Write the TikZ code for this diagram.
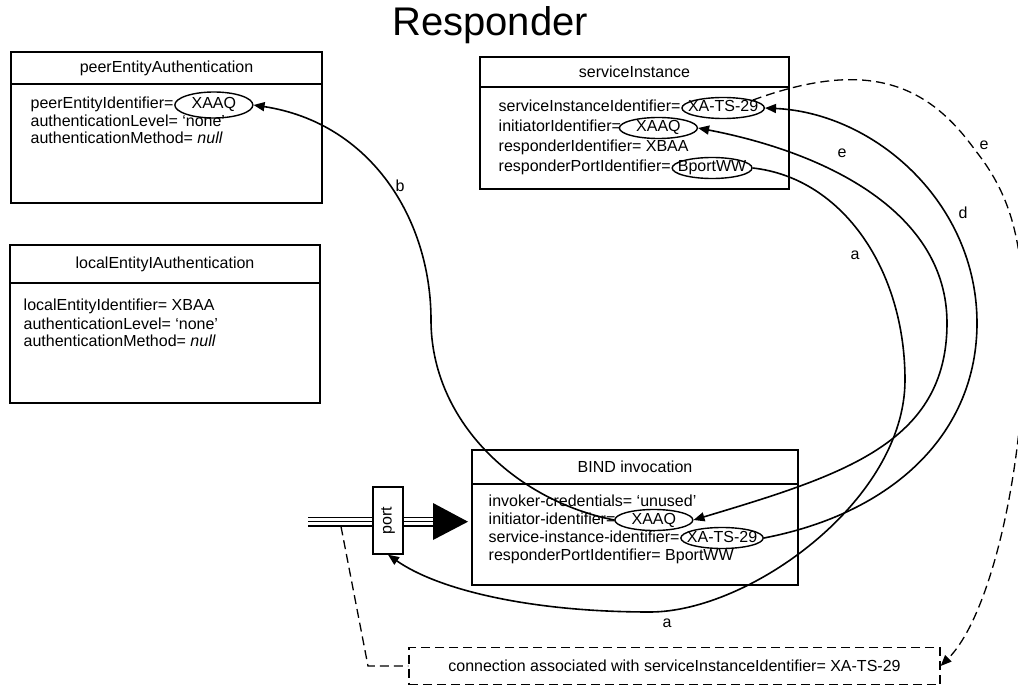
\documentclass[tikz,border=0pt]{standalone}
\usepackage{fontspec}
\setmainfont{Liberation Sans}
\usetikzlibrary{positioning,arrows.meta,shapes.geometric}

\tikzset{
	txt/.style={font=\fontsize{16}{18}\selectfont},
	attr/.style={txt, anchor=west, inner sep=0pt, text height=11.5pt, text depth=3.5pt},
	val/.style={txt, draw, ellipse, inner xsep=-6pt, inner ysep=-2pt, minimum width=78pt, minimum height=21pt, text height=11.5pt, text depth=3.5pt},
	link/.style={line width=1.6pt, -{Triangle[length=11pt,width=9pt]}},
	dlink/.style={link, line width=1.3pt, dash pattern=on 9pt off 5pt},
}

\begin{document}
\begin{tikzpicture}[x=1pt, y=-1pt, line width=1.4pt]
	\clip (0,0) rectangle (1018,687);
	\node[font=\fontsize{40}{44}\selectfont] (title) at (490,25) {Responder};

	% peerEntityAuthentication
	\draw (11,52) rectangle (322,203);
	\draw (11,84) -- (322,84);
	\node[txt] (peerhead) at (166.5,68) {peerEntityAuthentication};
	\node[attr] (peerid) at (30,105) {peerEntityIdentifier=};
	\node[val, minimum height=26pt, right=0pt of peerid] (peerxaaq) {XAAQ};
	\node[attr] (peerlvl) at (30,122.5) {authenticationLevel= ‘none’};
	\node[attr] (peermeth) at (30,140) {authenticationMethod= \textit{null}};

	% localEntityIAuthentication
	\draw (10,245) rectangle (320,403);
	\draw (10,283) -- (320,283);
	\node[txt] (lochead) at (165,264) {localEntityIAuthentication};
	\node[attr] (locid) at (23,307) {localEntityIdentifier= XBAA};
	\node[attr] (loclvl) at (23,325) {authenticationLevel= ‘none’};
	\node[attr] (locmeth) at (23,342.5) {authenticationMethod= \textit{null}};

	% serviceInstance
	\draw (480,57) rectangle (789,189);
	\draw (480,87) -- (789,87);
	\node[txt] (svchead) at (634.5,72) {serviceInstance};
	\node[attr] (svcid) at (498,108) {serviceInstanceIdentifier=};
	\node[val, right=0pt of svcid] (svcsid) {XA-TS-29};
	\node[attr] (svcini) at (498,128) {initiatorIdentifier=};
	\node[val, right=-3pt of svcini] (svcxaaq) {XAAQ};
	\node[attr] (svcresp) at (498,148) {responderIdentifier= XBAA};
	\node[attr] (svcrport) at (498,168) {responderPortIdentifier=};
	\node[val, right=0pt of svcrport] (svcport) {BportWW};

	% BIND invocation
	\draw (472,450) rectangle (798,585);
	\draw (472,484) -- (798,484);
	\node[txt] (bindhead) at (635,467) {BIND invocation};
	\node[attr] (bindcred) at (488,502) {invoker-credentials= ‘unused’};
	\node[attr] (bindini) at (488,520) {initiator-identifier=};
	\node[val, right=-2pt of bindini] (bindxaaq) {XAAQ};
	\node[attr] (bindsvc) at (488,538) {service-instance-identifier=};
	\node[val, right=0pt of bindsvc] (bindsid) {XA-TS-29};
	\node[attr] (bindrport) at (488,556) {responderPortIdentifier= BportWW};

	% port and incoming line
	\node[txt, draw, minimum width=30pt, minimum height=67pt, inner sep=0pt] (port) at (388,520.5) {\rotatebox{90}{port}};
	\coordinate (feed) at (308,521.7);
	\coordinate (headbase) at (433,521.7);
	\foreach \o in {-4.4,0,4.4} {
		\draw ([yshift=\o pt]feed) -- ([yshift=\o pt]feed -| port.west);
		\draw ([yshift=\o pt]feed -| port.east) -- ([yshift=\o pt]headbase);
	}
	\fill (433,503) -- (468,521.7) -- (433,540) -- cycle;

	% connection
	\node[txt, draw, dash pattern=on 9pt off 5pt, line width=1.3pt, minimum width=531pt, minimum height=37pt] (conn) at (674.5,666) {connection associated with serviceInstanceIdentifier= XA-TS-29};
	\coordinate (tap) at (341,526.5);
	\coordinate (bend) at (368,666);
	\draw[dash pattern=on 9pt off 5pt, line width=1.3pt] (tap) -- (bend) -- (conn.west);

	% links
	\draw[link] (bindxaaq.west) .. controls +(-100,-20) and +(0,100) .. (431,320)
		.. controls +(0,-100) and +(118,18) .. (peerxaaq.east);
	\draw[link] (bindsid.east) .. controls +(130,-25) and +(0,110) .. (977,323)
		.. controls +(0,-120) and +(110,5) .. (svcsid.east);
	\draw[link, {Triangle[length=11pt,width=9pt]}-{Triangle[length=11pt,width=9pt]}] (bindxaaq.east) .. controls +(150,-45) and +(0,120) .. (947,323)
		.. controls +(0,-110) and +(130,25) .. (svcxaaq.east);
	\draw[link] (svcport.east) .. controls +(90,10) and +(0,-110) .. (905,380)
		.. controls +(0,120) and +(100,0) .. (650,612)
		.. controls +(-120,0) and +(50,35) .. (port.south);
	\draw[dlink] (svcsid.north east) .. controls +(110,-40) and +(-50,-70) .. (975,150)
		.. controls +(40,50) and +(0,-90) .. (1024,340)
		.. controls +(0,130) and +(50,-50) .. (conn.east);

	% labels
	\node[txt] (lb) at (400,186) {b};
	\node[txt] (le) at (842,153) {e};
	\node[txt] (la) at (855,255) {a};
	\node[txt] (ld) at (963,213) {d};
	\node[txt] (le2) at (984,145) {e};
	\node[txt] (la2) at (667,623) {a};
\end{tikzpicture}
\end{document}
